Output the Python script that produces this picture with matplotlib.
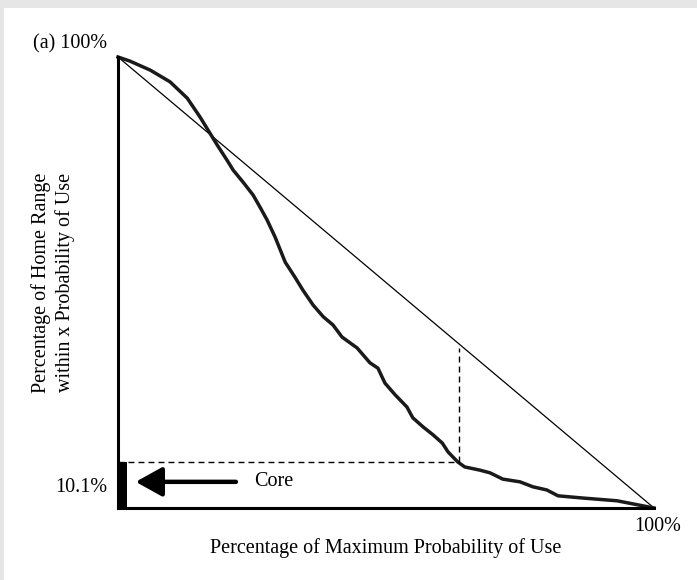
import matplotlib.pyplot as plt
from matplotlib.patches import Rectangle

# curve (percent of max probability, percent of home range)
prob_pct = [0, 2.2, 6.0, 9.7, 12.9, 15.3, 16.8, 18.5, 20.3, 21.5, 23.3, 25.2, 26.5,
            27.8, 29.3, 31.2, 33.0, 34.5, 36.4, 38.3, 40.1, 41.8, 44.6, 47.0, 48.5,
            49.8, 51.7, 53.9, 55.0, 56.9, 58.8, 60.5, 61.6, 63.4, 64.7, 67.5, 69.4,
            71.8, 75.0, 77.4, 80.0, 82.1, 86.8, 93.1, 100]
range_pct = [100, 99.1, 97.1, 94.5, 90.9, 86.7, 83.8, 80.5, 77.2, 74.9, 72.3, 69.4, 66.7,
             63.9, 60.1, 54.5, 51.2, 48.3, 45.0, 42.4, 40.6, 37.9, 35.5, 32.2, 31.0,
             27.7, 25.1, 22.4, 20.0, 18.0, 16.2, 14.4, 12.4, 10.2, 9.1, 8.4, 7.8,
             6.4, 5.8, 4.7, 4.0, 2.7, 2.2, 1.6, 0]

core_pct = 10.1
core_x = 63.6

plt.rcParams['font.family'] = ['Liberation Serif', 'DejaVu Serif']
fs = 14.5
dash = (0, (4.3, 2.9))

fig = plt.figure(figsize=(6.97, 5.80), dpi=100, facecolor='#e6e6e6')
fig.patches.append(Rectangle((4 / 697, 0), 1, 1 - 8 / 580, transform=fig.transFigure,
                             facecolor='white', edgecolor='none', zorder=-10))

ax = fig.add_axes([118 / 697, 72 / 580, 536 / 697, 451 / 580])
ax.set_facecolor('none')
ax.set_xlim(0, 100)
ax.set_ylim(0, 100)
for side in ['top', 'right']:
    ax.spines[side].set_visible(False)
for side in ['left', 'bottom']:
    ax.spines[side].set_linewidth(2.2)
ax.set_xticks([])
ax.set_yticks([])

# 1:1 reference line
ax.plot([0, 100], [100, 0], color='black', lw=0.9)
# observed curve
ax.plot(prob_pct, range_pct, color='#1a1a1a', lw=2.5, solid_joinstyle='round', clip_on=False)

# core threshold guides
ax.plot([0, core_x], [core_pct, core_pct], color='black', lw=1, ls=dash)
ax.plot([core_x, core_x], [core_pct, 100 - core_x - 1], color='black', lw=1, ls=dash)
ax.fill_betweenx([0, core_pct], 0, 1.6, color='black', lw=0)

ax.annotate('', xy=(3.3, 5.8), xytext=(22, 5.8),
            arrowprops=dict(arrowstyle='-|>,head_length=0.9,head_width=0.5',
                            color='black', lw=3.2, mutation_scale=18, shrinkA=0, shrinkB=0))
ax.text(25.4, 5.8, 'Core', fontsize=fs, va='center', ha='left')

ax.text(-2, 102.9, '(a) 100%', fontsize=fs, va='center', ha='right', clip_on=False)
ax.text(-2, 4.6, '10.1%', fontsize=fs, va='center', ha='right', clip_on=False)
ax.text(105, -4.2, '100%', fontsize=fs, va='center', ha='right', clip_on=False)

ax.set_xlabel('Percentage of Maximum Probability of Use', fontsize=fs, labelpad=22)
ax.set_ylabel('Percentage of Home Range\nwithin x Probability of Use', fontsize=fs,
              labelpad=31, linespacing=1.3)

fig.savefig('out.png', dpi=100, facecolor=fig.get_facecolor())
